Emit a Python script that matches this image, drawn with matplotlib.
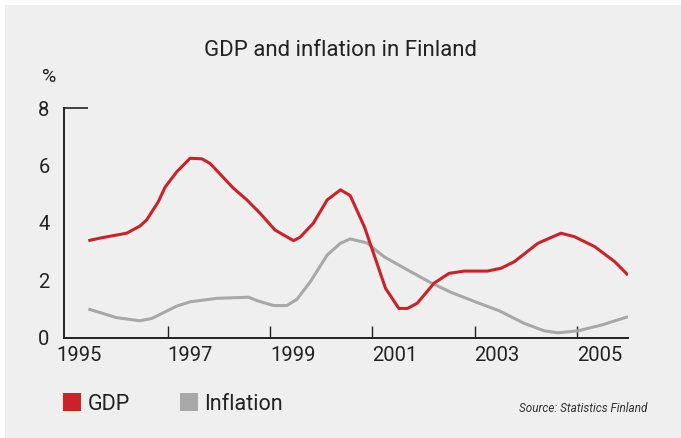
import matplotlib.pyplot as plt
from matplotlib.patches import Patch, Rectangle
from matplotlib.transforms import ScaledTranslation

# GDP growth and inflation, %
gdp_years = [1995.45, 1995.71, 1996.20, 1996.46, 1996.59, 1996.82, 1996.95, 1997.18,
             1997.44, 1997.67, 1997.83, 1998.29, 1998.55, 1998.81, 1999.10, 1999.46,
             1999.59, 1999.85, 2000.12, 2000.38, 2000.57, 2000.85, 2001.07, 2001.26,
             2001.52, 2001.69, 2001.88, 2002.21, 2002.50, 2002.80, 2003.25, 2003.52,
             2003.78, 2004.24, 2004.69, 2004.95, 2005.35, 2005.74, 2006.00]
gdp = [3.38, 3.48, 3.64, 3.89, 4.10, 4.74, 5.24, 5.78,
       6.25, 6.23, 6.07, 5.20, 4.80, 4.33, 3.75, 3.38,
       3.50, 3.99, 4.80, 5.15, 4.95, 3.85, 2.71, 1.72,
       1.02, 1.02, 1.20, 1.90, 2.24, 2.32, 2.32, 2.42,
       2.65, 3.29, 3.64, 3.52, 3.17, 2.65, 2.18]

infl_years = [1995.45, 1996.00, 1996.46, 1996.69, 1997.18, 1997.44, 1997.96, 1998.58,
              1998.75, 1999.07, 1999.33, 1999.53, 1999.79, 2000.12, 2000.38, 2000.57,
              2000.90, 2001.23, 2001.69, 2002.14, 2002.54, 2003.06, 2003.48, 2003.97,
              2004.36, 2004.63, 2005.02, 2005.48, 2006.00]
inflation = [1.00, 0.70, 0.59, 0.67, 1.10, 1.25, 1.37, 1.41,
             1.29, 1.12, 1.12, 1.34, 1.95, 2.88, 3.29, 3.44,
             3.30, 2.82, 2.36, 1.92, 1.58, 1.22, 0.94, 0.50,
             0.24, 0.17, 0.24, 0.44, 0.73]

year_ticks = [1995, 1997, 1999, 2001, 2003, 2005]
y_ticks = [0, 2, 4, 6, 8]

RED = "#cc2127"
GREY = "#a8a8a8"
BG = "#efefef"
INK = "#222222"

plt.rcParams["font.family"] = ["Roboto", "DejaVu Sans"]

fig = plt.figure(figsize=(6.81, 4.38), dpi=100)
fig.patch.set_facecolor("white")
# grey panel with a thin white margin at top and left
fig.add_artist(Rectangle((5 / 681, 0), 1, 1 - 5 / 438, transform=fig.transFigure,
                         facecolor=BG, edgecolor="none", zorder=0))

ax = fig.add_axes([63.5 / 681, 1 - 337.7 / 438, (628 - 63.5) / 681, (337.7 - 108) / 438])
ax.set_facecolor("none")

ax.plot(infl_years, inflation, color=GREY, lw=2.2, solid_joinstyle="round",
        solid_capstyle="butt")
ax.plot(gdp_years, gdp, color=RED, lw=2.2, solid_joinstyle="round",
        solid_capstyle="butt")

ax.set_xlim(1994.965, 2006.0)
ax.set_ylim(0, 8)

for side in ("top", "right"):
    ax.spines[side].set_visible(False)
for side in ("left", "bottom"):
    ax.spines[side].set_color(INK)
    ax.spines[side].set_linewidth(1.4)

ax.set_xticks(year_ticks)
ax.set_xticklabels([str(y) for y in year_ticks], ha="left")
ax.tick_params(axis="x", direction="in", length=9, width=1, color=INK,
               labelsize=14.5, labelcolor=INK, pad=6)
# the 1995 tick falls on the y axis; its label sits a little left of it
first = ax.xaxis.get_major_ticks()[0]
first.tick1line.set_visible(False)
lbl = first.label1
lbl.set_transform(lbl.get_transform() + ScaledTranslation(-9 / 100, 0, fig.dpi_scale_trans))

# y labels without tick marks, except a short inward cap at the top
ax.set_yticks(y_ticks)
ax.tick_params(axis="y", direction="in", length=17, width=1.2, color=INK,
               labelsize=14.5, labelcolor=INK, pad=10)
for val, tick in zip(y_ticks, ax.yaxis.get_major_ticks()):
    tick.tick1line.set_visible(val == 8)

fig.text(49 / 681, 1 - 77 / 438, "%", ha="center", va="center", fontsize=14, color=INK)
fig.text(341 / 681, 1 - 51 / 438, "GDP and inflation in Finland", ha="center",
         va="center", fontsize=16, color=INK)

handles = [Patch(facecolor=RED, edgecolor="none", label="GDP"),
           Patch(facecolor=GREY, edgecolor="none", label="Inflation")]
fig.legend(handles=handles, loc="center left", bbox_to_anchor=(63 / 681, 1 - 404 / 438),
           ncol=2, frameon=False, fontsize=15.5, borderpad=0, borderaxespad=0,
           handlelength=0.85, handleheight=0.85, handletextpad=0.3, columnspacing=2.3,
           labelcolor=INK)

fig.text(647 / 681, 1 - 409 / 438, "Source: Statistics Finland", ha="right", va="center",
         fontsize=8.5, style="italic", color="#333333")

fig.savefig("out.png", dpi=100, facecolor=fig.get_facecolor())
